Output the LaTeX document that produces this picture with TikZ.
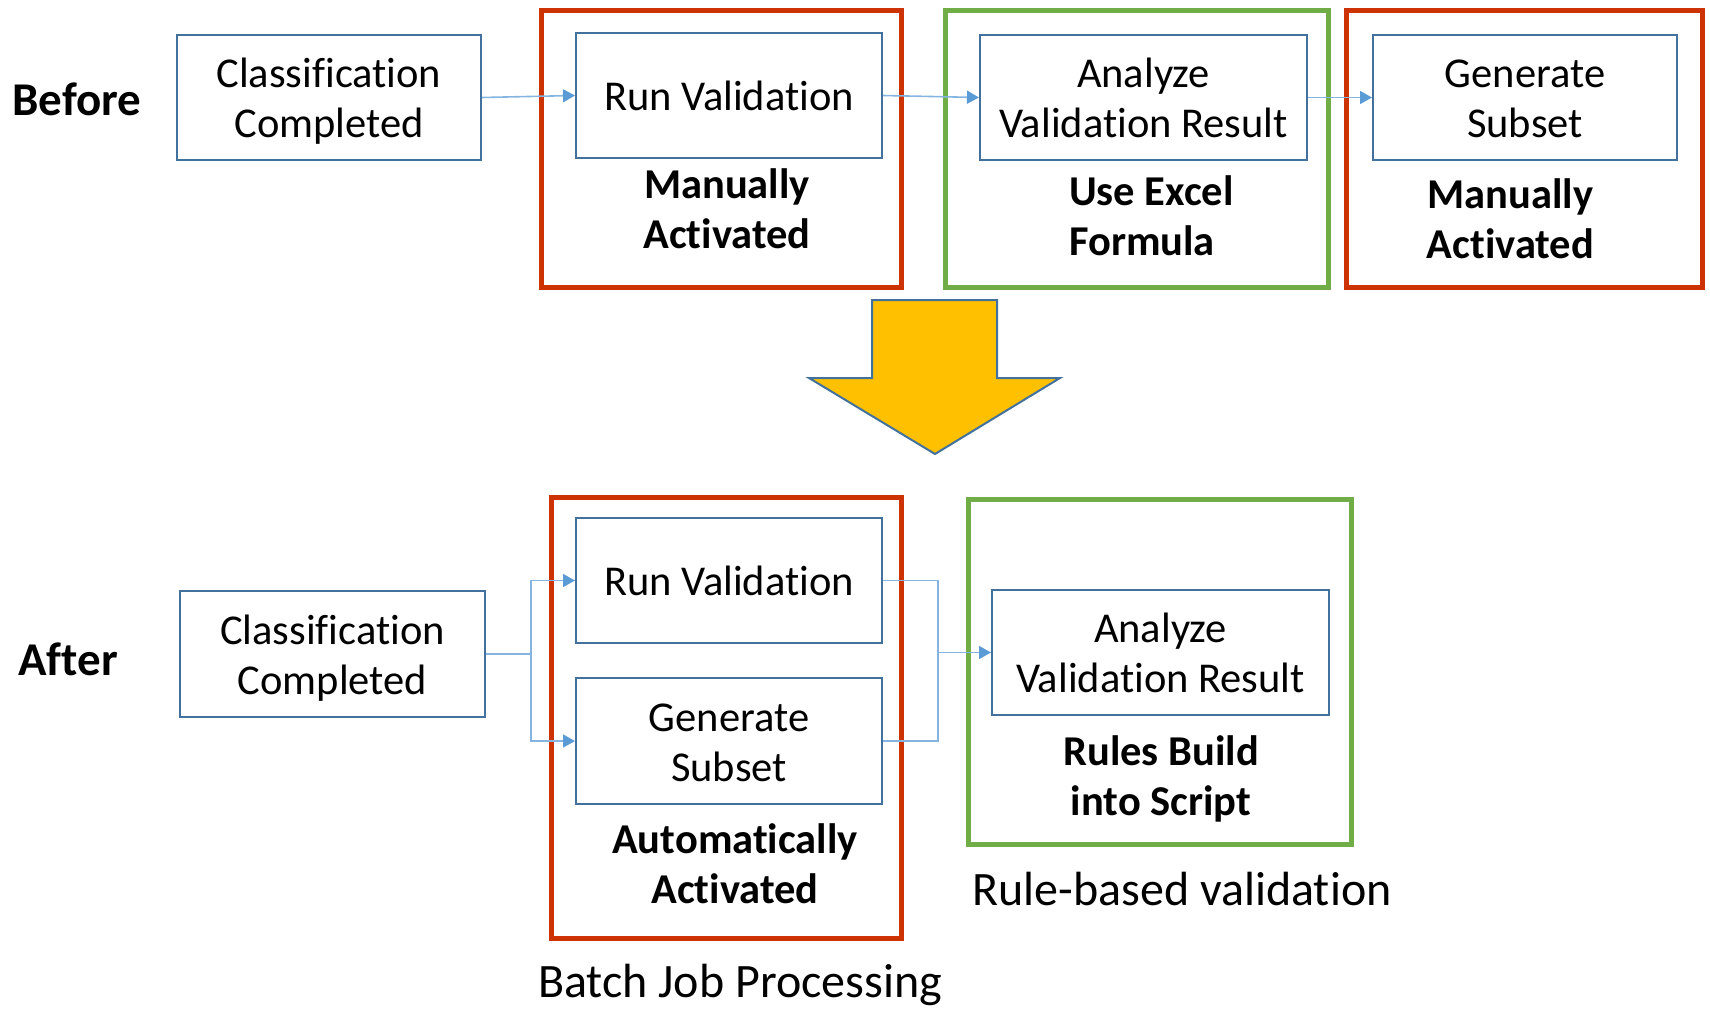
\documentclass[tikz,border=0pt]{standalone}
\usepackage{fontspec}
\setmainfont{Carlito}[Ligatures=NoCommon]
\usetikzlibrary{arrows.meta}
\definecolor{boxblue}{HTML}{41719C}
\definecolor{linkblue}{HTML}{86B4E0}
\definecolor{tipblue}{HTML}{5B9BD5}
\definecolor{frred}{HTML}{CC3300}
\definecolor{frgreen}{HTML}{70AD47}
\definecolor{arrowgold}{HTML}{FFC000}
% invisible strut giving every box line the same height and depth
\newcommand\boxline{\rule[-10pt]{0pt}{50pt}}
\begin{document}
\begin{tikzpicture}[x=1pt,y=-1pt,
  stepbox/.style={draw=boxblue, line width=2pt, inner sep=0pt, align=center,
    font=\fontsize{42.5}{50}\selectfont},
  redframe/.style={draw=frred, line width=5pt, inner sep=0pt},
  greenframe/.style={draw=frgreen, line width=5pt, inner sep=0pt},
  note/.style={inner sep=0pt, align=center, font=\fontsize{42.5}{50}\selectfont\bfseries},
  caption/.style={inner sep=0pt, font=\fontsize{48}{56}\selectfont},
  phase/.style={inner sep=0pt, font=\fontsize{47}{56}\selectfont\bfseries},
  link/.style={draw=linkblue, line width=1.6pt},
  linkarrow/.style={link, -{Triangle[length=12pt,width=13pt,color=tipblue,fill=tipblue]}}
]
\useasboundingbox (0,0) rectangle (1710,1009);

% ---------- Before ----------
\node[phase] (before) at (77,99) {Before};

\node[redframe, minimum width=360pt, minimum height=277pt] (rfA) at (721,148.5) {};
\node[greenframe, minimum width=383pt, minimum height=277pt] (gfA) at (1136.5,148.5) {};
\node[redframe, minimum width=356pt, minimum height=277pt] (rfB) at (1524,148.5) {};

\node[stepbox, minimum width=304pt, minimum height=125pt] (clsA) at (329,97.5) {\boxline Classification\\\boxline Completed};
\node[stepbox, minimum width=306pt, minimum height=125pt] (runA) at (729,95.5) {\boxline Run Validation};
\node[stepbox, minimum width=327pt, minimum height=125pt] (anaA) at (1143.5,97.5) {\boxline Analyze\\\boxline Validation Result};
\node[stepbox, minimum width=304pt, minimum height=125pt] (genA) at (1525,97.5) {\boxline Generate\\\boxline Subset};

\node[note] (manA) at (727,209) {Manually\\Activated};
\node[note, align=left, anchor=west] (excel) at (1069,216) {Use Excel\\Formula};
\node[note] (manB) at (1510.5,219) {Manually\\Activated};

\draw[linkarrow] (clsA.east) -- (runA.west);
\draw[linkarrow] (runA.east) -- (anaA.west);
\draw[linkarrow] (anaA.east) -- (genA.west);

% ---------- transition arrow ----------
\draw[draw=boxblue, line width=2pt, fill=arrowgold, line join=miter]
  (872,300) -- (997,300) -- (997,378) -- (1060,378) -- (935,454)
  -- (809,378) -- (872,378) -- cycle;

% ---------- After ----------
\node[phase] (after) at (68,659) {After};

\node[redframe, minimum width=350pt, minimum height=441pt] (rfC) at (726,717.5) {};
\node[greenframe, minimum width=383pt, minimum height=345pt] (gfC) at (1159.5,671.5) {};

\node[stepbox, minimum width=305pt, minimum height=126pt] (clsB) at (332.5,654) {\boxline Classification\\\boxline Completed};
\node[stepbox, minimum width=306pt, minimum height=125pt] (runB) at (729,580.5) {\boxline Run Validation};
\node[stepbox, minimum width=306pt, minimum height=126pt] (genB) at (729,741) {\boxline Generate\\\boxline Subset};
\node[stepbox, minimum width=337pt, minimum height=125pt] (anaB) at (1160.5,652.5) {\boxline Analyze\\\boxline Validation Result};

\node[note] (autoAct) at (735,864) {Automatically\\Activated};
\node[note] (rules) at (1161,779) {Rules Build\\into Script};

\node[caption] (batch) at (740,985) {Batch Job Processing};
\node[caption] (rulebased) at (1182,889) {Rule-based validation};

\coordinate (split) at (531,654);
\coordinate (merge) at (938,652.5);
\draw[link] (clsB.east) -- (split);
\draw[linkarrow] (split) |- (runB.west);
\draw[linkarrow] (split) |- (genB.west);
\draw[link] (runB.east) -| (merge);
\draw[link] (genB.east) -| (merge);
\draw[linkarrow] (merge) -- (anaB.west);
\end{tikzpicture}
\end{document}
